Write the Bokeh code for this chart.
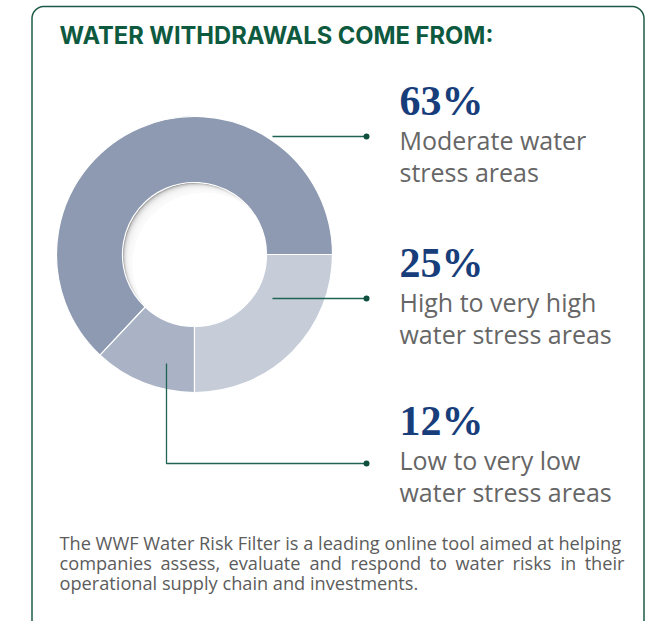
import numpy as np
from bokeh.plotting import figure
from bokeh.models import Range1d, ColumnDataSource
from bokeh.core.properties import value
from bokeh.embed import file_html
from bokeh.resources import INLINE

# ---------------- data ----------------
title_text = "WATER WITHDRAWALS COME FROM:"
# slices in anticlockwise drawing order, starting at 3 o'clock
slice_names = ["Moderate water stress", "Low to very low water stress", "High to very high water stress"]
slice_shares = [63, 12, 25]
slice_colors = ["#8d9ab1", "#a9b3c5", "#c6cdd9"]

# labels in display order (top to bottom)
label_pcts = ["63%", "25%", "12%"]
label_line1 = ["Moderate water", "High to very high", "Low to very low"]
label_line2 = ["stress areas", "water stress areas", "water stress areas"]

note_line1 = "The WWF Water Risk Filter is a leading online tool aimed at helping"
note_line2_words = ["companies", "assess,", "evaluate", "and", "respond", "to", "water", "risks", "in", "their"]
note_line3 = "operational supply chain and investments."

# ---------------- layout helpers (page px -> data) ----------------
W, H = 646, 621
def X(px):
    return px
def Y(py):
    return H - py
def YB(py, size):
    # baseline correction for bokeh's alphabetic text placement
    return H - py + 0.4 * size

GREEN = "#0e5a3f"
LEADER = "#1f6353"
NAVY = "#173d7a"
GREY = "#666666"

p = figure(width=W, height=H, x_range=Range1d(0, W), y_range=Range1d(0, H),
           output_backend="svg", toolbar_location=None,
           x_axis_type=None, y_axis_type=None, min_border=0)
p.outline_line_color = None
p.background_fill_color = "white"
p.border_fill_color = "white"

# ---------------- rounded frame ----------------
def rounded_rect(x0, x1, y0, y1, r, n=16):
    xs, ys = [], []
    corners = [(x1 - r, y1 - r, 0, np.pi / 2), (x0 + r, y1 - r, np.pi / 2, np.pi),
               (x0 + r, y0 + r, np.pi, 1.5 * np.pi), (x1 - r, y0 + r, 1.5 * np.pi, 2 * np.pi)]
    for cx, cy, a0, a1 in corners:
        t = np.linspace(a0, a1, n)
        xs.extend(cx + r * np.cos(t))
        ys.extend(cy + r * np.sin(t))
    xs.append(xs[0]); ys.append(ys[0])
    return xs, ys

bx, by = rounded_rect(X(31.5), X(643.5), Y(640), Y(6), 12)
p.line(bx, by, line_color="#1d5a48", line_width=1.5)

# ---------------- title ----------------
TS = 23.7
p.text(x=[X(59)], y=[YB(44, TS)], text=[title_text], text_font=value("Inter"),
       text_font_size=f"{TS}px", text_font_style="bold", text_color=GREEN,
       text_baseline="alphabetic", text_align="left")

# ---------------- donut ----------------
cx, cy = X(194), Y(254)
r_out, r_in = 138, 72

# inner shadow of the hole (drawn first, ring covers overflow)
p.circle(x=[cx], y=[cy], radius=r_in, fill_color="#888888", line_color=None)
for d in [0.6, 1.2, 1.8, 2.5, 3.3, 4.2, 5.2, 6.4, 7.8]:
    p.circle(x=[cx + d], y=[cy - d], radius=r_in, fill_color="white",
             fill_alpha=0.3, line_color=None)
p.circle(x=[cx + 10], y=[cy - 10], radius=r_in, fill_color="white", line_color=None)

fr = np.array(slice_shares, dtype=float) / np.sum(slice_shares)
cum = np.concatenate([[0.0], np.cumsum(fr)]) * 2 * np.pi
src = ColumnDataSource(dict(name=slice_names, share=slice_shares,
                            start=cum[:-1], end=cum[1:], color=slice_colors))
p.annular_wedge(x=cx, y=cy, inner_radius=r_in, outer_radius=r_out,
                start_angle="start", end_angle="end", fill_color="color",
                line_color="white", line_width=1.2, source=src)

# ---------------- leaders ----------------
leader_xs = [[X(272), X(366)], [X(272), X(366)], [X(166), X(166), X(366)]]
leader_ys = [[Y(136), Y(136)], [Y(298), Y(298)], [Y(363), Y(463), Y(463)]]
p.multi_line(xs=leader_xs, ys=leader_ys, line_color=LEADER, line_width=1.3)
p.scatter(x=[X(366)] * 3, y=[Y(136), Y(298), Y(463)], size=6,
          fill_color="#0f5040", line_color=None)

# ---------------- labels ----------------
NS, LS = 42, 25
num_base = [117, 279, 437]
p.text(x=[X(399)] * 3, y=[YB(b, NS) for b in num_base], text=label_pcts,
       text_font=value("Liberation Serif"), text_font_size=f"{NS}px",
       text_font_style="bold", text_color=NAVY,
       text_baseline="alphabetic", text_align="left")
p.text(x=[X(399)] * 3, y=[YB(b + 32, LS) for b in num_base], text=label_line1,
       text_font=value("Open Sans"), text_font_size=f"{LS}px", text_color=GREY,
       text_baseline="alphabetic", text_align="left")
p.text(x=[X(399)] * 3, y=[YB(b + 64, LS) for b in num_base], text=label_line2,
       text_font=value("Open Sans"), text_font_size=f"{LS}px", text_color=GREY,
       text_baseline="alphabetic", text_align="left")

# ---------------- note ----------------
NOTE = "#5c5c5c"
FS = 18.2
p.text(x=[X(59), X(59)], y=[YB(550, FS), YB(590, FS)], text=[note_line1, note_line3],
       text_font=value("Open Sans"), text_font_size=f"{FS}px", text_color=NOTE,
       text_baseline="alphabetic", text_align="left")
word_x = [59, 160, 228, 309, 350, 429, 455, 512, 560, 624]
aligns = ["left"] * 9 + ["right"]
p.text(x=[X(v) for v in word_x], y=[YB(570, FS)] * len(word_x), text=note_line2_words,
       text_font=value("Open Sans"), text_font_size=f"{FS}px", text_color=NOTE,
       text_baseline="alphabetic", text_align=aligns)

open("out.html", "w").write(file_html(p, INLINE))
